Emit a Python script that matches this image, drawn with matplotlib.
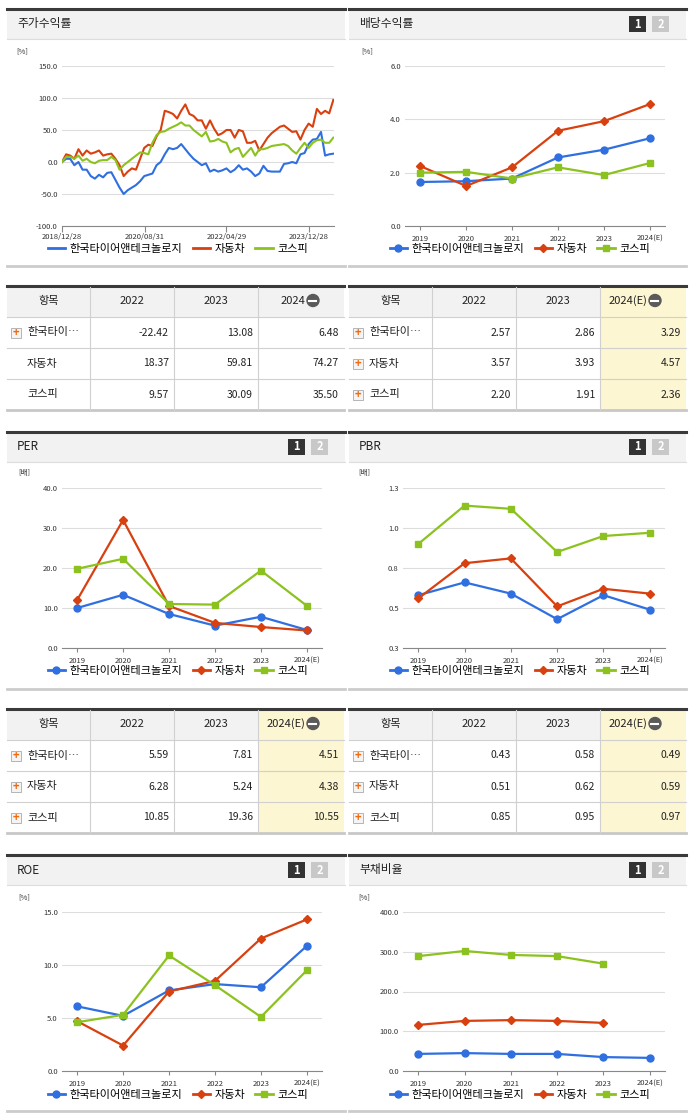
import matplotlib
matplotlib.use("Agg")
import matplotlib.pyplot as plt
import numpy as np
import pandas as pd
from matplotlib.patches import Rectangle, Circle
from matplotlib.lines import Line2D

plt.rcParams['font.family'] = ['Noto Sans CJK KR', 'DejaVu Sans']

W, H = 691, 1115
BLUE, RED, GREEN = '#2f6fe0', '#d9400f', '#8cc21f'
names = ['한국타이어앤테크놀로지', '자동차', '코스피']
years = ['2019', '2020', '2021', '2022', '2023', '2024(E)']

# stock return (monthly, Dec 2018 - Jun 2024)
ret_hk = [0, 5, 5, -5, 0, -12, -12, -22, -26, -20, -24, -17, -16, -28, -40, -50, -44, -40, -36, -30,
          -22, -20, -18, -5, 0, 12, 22, 20, 22, 28, 20, 12, 5, 0, -5, -2, -15, -12, -15, -13,
          -10, -16, -12, -5, -12, -10, -15, -22, -18, -6, -14, -15, -15, -15, -3, -2, 0, -2, 12, 14,
          28, 35, 36, 47, 10, 12, 13]
ret_car = [0, 12, 10, 5, 20, 10, 18, 13, 15, 18, 10, 12, 13, 5, -5, -22, -15, -10, -12, 5,
           22, 27, 25, 40, 50, 80, 78, 75, 68, 80, 90, 75, 72, 65, 65, 52, 65, 52, 42, 45,
           50, 50, 38, 50, 48, 30, 30, 33, 18, 28, 38, 45, 50, 55, 57, 52, 47, 48, 35, 50,
           60, 55, 83, 75, 80, 76, 97]
ret_ks = [0, 8, 8, 5, 10, 2, 5, 0, -2, 2, 3, 3, 8, 3, -12, -5, 0, 5, 10, 15,
          14, 12, 30, 42, 47, 48, 52, 55, 58, 62, 57, 57, 50, 45, 40, 47, 32, 33, 36, 32,
          30, 15, 20, 22, 8, 15, 22, 10, 20, 20, 22, 25, 26, 27, 28, 25, 18, 13, 22, 30,
          22, 30, 34, 35, 30, 30, 38]
ret_ticks = ['2018/12/28', '2020/08/31', '2022/04/29', '2023/12/28']

div_hk = [1.65, 1.68, 1.78, 2.57, 2.86, 3.29]
div_car = [2.25, 1.50, 2.20, 3.57, 3.93, 4.57]
div_ks = [2.00, 2.03, 1.78, 2.20, 1.91, 2.36]
per_hk = [10.0, 13.3, 8.5, 5.59, 7.81, 4.51]
per_car = [12.0, 32.0, 10.5, 6.28, 5.24, 4.38]
per_ks = [19.8, 22.3, 11.0, 10.85, 19.36, 10.55]
pbr_hk = [0.58, 0.66, 0.59, 0.43, 0.58, 0.49]
pbr_car = [0.56, 0.78, 0.81, 0.51, 0.62, 0.59]
pbr_ks = [0.90, 1.14, 1.12, 0.85, 0.95, 0.97]
roe_hk = [6.1, 5.2, 7.6, 8.2, 7.9, 11.8]
roe_car = [4.7, 2.4, 7.5, 8.5, 12.5, 14.3]
roe_ks = [4.6, 5.3, 10.9, 8.1, 5.1, 9.5]
debt_hk = [43, 45, 43, 43, 35, 33]
debt_car = [116, 126, 128, 126, 121, np.nan]
debt_ks = [289, 302, 292, 289, 270, np.nan]

tab1 = [['한국타이…', '-22.42', '13.08', '6.48'], ['자동차', '18.37', '59.81', '74.27'], ['코스피', '9.57', '30.09', '35.50']]
tab2 = [['한국타이…', '2.57', '2.86', '3.29'], ['자동차', '3.57', '3.93', '4.57'], ['코스피', '2.20', '1.91', '2.36']]
tab3 = [['한국타이…', '5.59', '7.81', '4.51'], ['자동차', '6.28', '5.24', '4.38'], ['코스피', '10.85', '19.36', '10.55']]
tab4 = [['한국타이…', '0.43', '0.58', '0.49'], ['자동차', '0.51', '0.62', '0.59'], ['코스피', '0.85', '0.95', '0.97']]

fig = plt.figure(figsize=(W / 100, H / 100), dpi=100)
bg = fig.add_axes([0, 0, 1, 1])
bg.set_xlim(0, W); bg.set_ylim(H, 0); bg.axis('off')

def px(x, y, w, h):
    return [x / W, 1 - (y + h) / H, w / W, h / H]

def panel(x0, x1, y0, y1, title, buttons=True):
    bg.add_patch(Rectangle((x0, y0 + 2), x1 - x0, 30, color='#f2f2f2', lw=0))
    bg.plot([x0, x1], [y0 + 1.5, y0 + 1.5], color='#3a3a3a', lw=2.2)
    bg.plot([x0, x1], [y0 + 32, y0 + 32], color='#dddddd', lw=0.8)
    bg.plot([x0, x1], [y1, y1], color='#cccccc', lw=2)
    bg.text(x0 + 10, y0 + 17, title, fontsize=8.5, va='center', color='#222')
    if buttons:
        bg.add_patch(Rectangle((x1 - 57, y0 + 9), 17, 16, color='#333333', lw=0))
        bg.text(x1 - 48.5, y0 + 17, '1', color='white', fontsize=8, ha='center', va='center', weight='bold')
        bg.add_patch(Rectangle((x1 - 34, y0 + 9), 17, 16, color='#c8c8c8', lw=0))
        bg.text(x1 - 25.5, y0 + 17, '2', color='white', fontsize=8, ha='center', va='center', weight='bold')

def style(ax, ylim, yticks, ylabels, unit):
    ax.set_ylim(*ylim)
    ax.set_yticks(yticks)
    ax.set_yticklabels(ylabels, fontsize=5.5, color='#333')
    ax.grid(axis='y', color='#dddddd', lw=0.8)
    ax.set_axisbelow(True)
    for s in ['top', 'right', 'left']:
        ax.spines[s].set_visible(False)
    ax.spines['bottom'].set_color('#888')
    ax.tick_params(axis='y', length=0, pad=3)
    ax.tick_params(axis='x', labelsize=5.5, colors='#333', length=3, color='#888')
    ax.text(-0.17, 1.08, unit, transform=ax.transAxes, fontsize=5.5, color='#333')

def legend(cx, cy, marker=True):
    mk = ['o', 'D', 's']
    ms = [5, 4, 5]
    hs = [Line2D([0], [0], color=c, lw=2, marker=(m if marker else None), markersize=s)
          for c, m, s in zip([BLUE, RED, GREEN], mk, ms)]
    fig.legend(hs, names, loc='center', bbox_to_anchor=(cx / W, 1 - cy / H), ncol=3, frameon=False,
               fontsize=8, handlelength=1.6, columnspacing=0.9, handletextpad=0.4, borderpad=0)

def cat_chart(rect, series, ylim, yticks, ylabels, unit):
    ax = fig.add_axes(px(*rect))
    x = np.arange(len(years))
    for vals, c, m, s in zip(series, [BLUE, RED, GREEN], ['o', 'D', 's'], [5, 4, 5]):
        ax.plot(x, vals, color=c, lw=1.6, marker=m, markersize=s)
    ax.set_xlim(-0.33, 5.33)
    ax.set_xticks(x)
    ax.set_xticklabels(years)
    for lab in ax.get_xticklabels()[-1:]:
        lab.set_fontsize(5)
    style(ax, ylim, yticks, ylabels, unit)
    return ax

# ---- panels
panel(7, 345, 7, 266, '주가수익률', buttons=False)
panel(349, 686, 7, 266, '배당수익률')
panel(7, 345, 430, 689, 'PER')
panel(349, 686, 430, 689, 'PBR')
panel(7, 345, 853, 1111, 'ROE')
panel(349, 686, 853, 1111, '부채비율')

# ---- stock return chart
ax = fig.add_axes(px(62, 66, 272, 160))
dates = pd.date_range('2018-12-28', periods=len(ret_hk), freq='MS') + pd.Timedelta(days=0)
dates = pd.to_datetime('2018-12-28') + pd.to_timedelta(np.arange(len(ret_hk)) * 30.44, unit='D')
ax.plot(dates, ret_hk, color=BLUE, lw=1.5)
ax.plot(dates, ret_car, color=RED, lw=1.5)
ax.plot(dates, ret_ks, color=GREEN, lw=1.5)
ax.set_xlim(dates[0], dates[-1] + pd.Timedelta(days=5))
tk = pd.to_datetime(ret_ticks)
ax.set_xticks(tk)
ax.set_xticklabels(ret_ticks)
style(ax, (-100, 150), [-100, -50, 0, 50, 100, 150], ['-100.0', '-50.0', '0.0', '50.0', '100.0', '150.0'], '[%]')
ax.tick_params(axis='x', length=4, pad=1)
legend(178, 249, marker=False)

cat_chart((405, 66, 260, 160), [div_hk, div_car, div_ks], (0, 6), [0, 2, 4, 6], ['0.0', '2.0', '4.0', '6.0'], '[%]')
legend(520, 249)
cat_chart((62, 488, 260, 160), [per_hk, per_car, per_ks], (0, 40), [0, 10, 20, 30, 40], ['0.0', '10.0', '20.0', '30.0', '40.0'], '[배]')
legend(178, 671)
cat_chart((403, 488, 262, 160), [pbr_hk, pbr_car, pbr_ks], (0.25, 1.25), [0.25, 0.5, 0.75, 1.0, 1.25], ['0.3', '0.5', '0.8', '1.0', '1.3'], '[배]')
legend(520, 671)
cat_chart((62, 912, 260, 159), [roe_hk, roe_car, roe_ks], (0, 15), [0, 5, 10, 15], ['0.0', '5.0', '10.0', '15.0'], '[%]')
legend(178, 1095)
cat_chart((403, 912, 262, 159), [debt_hk, debt_car, debt_ks], (0, 400), [0, 100, 200, 300, 400], ['0.0', '100.0', '200.0', '300.0', '400.0'], '[%]')
legend(520, 1095)

# ---- tables
def table(x0, y0, rows, head, highlight, plus_rows):
    cols = [x0, x0 + 83, x0 + 167, x0 + 251, x0 + 337]
    ys = [y0, y0 + 32, y0 + 63, y0 + 94, y0 + 125]
    bg.add_patch(Rectangle((x0, ys[0]), cols[-1] - x0, 32, color='#f2f2f2', lw=0))
    if highlight:
        bg.add_patch(Rectangle((cols[3], ys[0]), cols[4] - cols[3], ys[4] - ys[0], color='#fdf6d2', lw=0))
    bg.plot([x0, cols[-1]], [ys[0] + 1, ys[0] + 1], color='#3a3a3a', lw=2.2)
    for yy in ys[1:4]:
        bg.plot([x0, cols[-1]], [yy, yy], color='#d0d0d0', lw=0.8)
    bg.plot([x0, cols[-1]], [ys[4], ys[4]], color='#c8c8c8', lw=2)
    for cx in cols[1:4]:
        bg.plot([cx, cx], [ys[0] + 2, ys[4]], color='#d0d0d0', lw=0.8)
    for i, h in enumerate(head):
        if i < 3:
            bg.text((cols[i] + cols[i + 1]) / 2, ys[0] + 16, h, ha='center', va='center', fontsize=8, color='#222')
        else:
            cx = (cols[3] + cols[4]) / 2
            bg.text(cx + 4, ys[0] + 16, h, ha='right', va='center', fontsize=8, color='#222')
            bg.add_patch(Circle((cx + 12, ys[0] + 15.5), 6, color='#5a5a5a'))
            bg.plot([cx + 8.5, cx + 15.5], [ys[0] + 15.5, ys[0] + 15.5], color='white', lw=1.5)
    for r, row in enumerate(rows):
        yc = (ys[r + 1] + ys[r + 2]) / 2
        if r in plus_rows:
            bg.add_patch(Rectangle((x0 + 4, yc - 5), 10, 10, facecolor='#f4f4f4', edgecolor='#aaaaaa', lw=0.6))
            bg.text(x0 + 9, yc, '+', color='#f06a10', ha='center', va='center', fontsize=8, weight='bold')
        bg.text(x0 + 20, yc, row[0], va='center', fontsize=8, color='#222')
        for j in range(1, 4):
            bg.text(cols[j + 1] - 5, yc, row[j], ha='right', va='center', fontsize=7.5, color='#222')

table(7, 285, tab1, ['항목', '2022', '2023', '2024'], False, [0])
table(349, 285, tab2, ['항목', '2022', '2023', '2024(E)'], True, [0, 1, 2])
table(7, 708, tab3, ['항목', '2022', '2023', '2024(E)'], True, [0, 1, 2])
table(349, 708, tab4, ['항목', '2022', '2023', '2024(E)'], True, [0, 1, 2])

fig.savefig('out.png', dpi=100)
